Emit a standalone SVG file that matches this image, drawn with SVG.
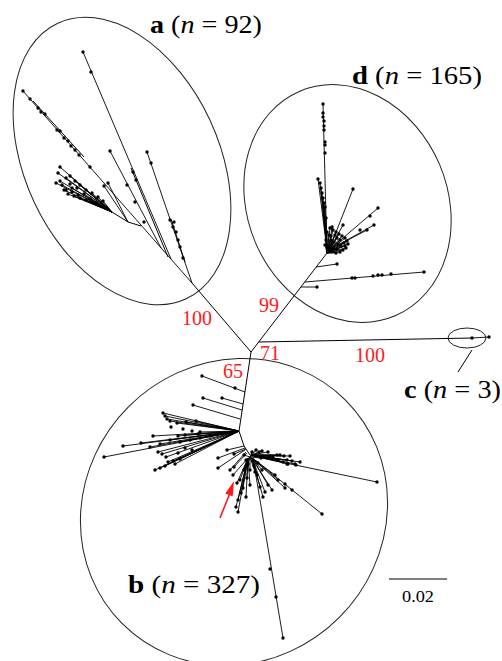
<svg xmlns="http://www.w3.org/2000/svg" width="502" height="661" viewBox="0 0 502 661">
<defs>
<marker id="dot" markerWidth="4" markerHeight="4" refX="2" refY="2" markerUnits="userSpaceOnUse"><circle cx="2" cy="2" r="1.7" fill="#000"/></marker>
<circle id="p" r="1.7" fill="#000"/>
</defs>
<rect width="502" height="661" fill="#fff"/>

<g id="clade-a">
<ellipse fill="none" stroke="#222" stroke-width="1" cx="122" cy="161" rx="152" ry="97" transform="rotate(65 122 161)"/>
<text font-family="Liberation Serif, serif" font-size="26" x="150" y="33" textLength="112" lengthAdjust="spacingAndGlyphs"><tspan font-weight="bold">a</tspan> (<tspan font-style="italic">n</tspan> = 92)</text>
</g>
<g id="clade-d">
<ellipse fill="none" stroke="#222" stroke-width="1" cx="347.5" cy="203.5" rx="122" ry="100" transform="rotate(67 347.5 203.5)"/>
<text font-family="Liberation Serif, serif" font-size="26" x="352" y="84" textLength="130" lengthAdjust="spacingAndGlyphs"><tspan font-weight="bold">d</tspan> (<tspan font-style="italic">n</tspan> = 165)</text>
</g>
<g id="clade-c">
<ellipse fill="none" stroke="#222" stroke-width="1" cx="467" cy="338" rx="19" ry="10"/>
<line stroke="#000" stroke-width="1" x1="472" y1="350" x2="458" y2="372"/>
<text font-family="Liberation Serif, serif" font-size="26" x="404" y="398" textLength="97" lengthAdjust="spacingAndGlyphs"><tspan font-weight="bold">c</tspan> (<tspan font-style="italic">n</tspan> = 3)</text>
</g>
<g id="clade-b">
<ellipse fill="none" stroke="#222" stroke-width="1" cx="234" cy="512" rx="158" ry="149" transform="rotate(-45 234 512)"/>
<text font-family="Liberation Serif, serif" font-size="26" x="128" y="593" textLength="132" lengthAdjust="spacingAndGlyphs"><tspan font-weight="bold">b</tspan> (<tspan font-style="italic">n</tspan> = 327)</text>
</g>

<g id="support" font-family="Liberation Serif, serif" font-size="20" fill="#ff1a1a">
<text x="182" y="325">100</text>
<text x="259" y="312">99</text>
<text x="260" y="360">71</text>
<text x="223" y="378">65</text>
<text x="355" y="362">100</text>
</g>

<g id="scale">
<line stroke="#000" stroke-width="1" x1="389" y1="579" x2="447" y2="579"/>
<text font-family="Liberation Serif, serif" font-size="17" x="402" y="602" textLength="32" lengthAdjust="spacingAndGlyphs">0.02</text>
</g>

<g id="connectors">
<g fill="none" stroke="#000" stroke-width="1">
<path d="M251 352L192 283M251 352L327 253M251 352L239 431L244 446L250 455"/>
<path d="M259 342L472 338"/>
<path d="M33 101L84 157"/>
<path d="M171 219L185 262"/>
<path d="M131 168L168 257"/>
<path d="M112 212L128 222L141 226"/>
</g>
<g fill="none" stroke="#000" stroke-width="0.9" marker-end="url(#dot)">
<path d="M472 338L489 337"/>
<path d="M192 283L23 91"/>
<path d="M192 283L147 152"/>
<path d="M171 259L83 52"/>
<path d="M161 248L110 151"/>
<path d="M128 222L108 183"/>
<path d="M128 222L104 186"/>
<path d="M112 212L60 167"/><path d="M112 212L58 173"/><path d="M112 212L56 183"/><path d="M112 212L62 185"/><path d="M112 212L66 178"/><path d="M112 212L70 176"/><path d="M112 212L75 181"/><path d="M112 212L80 185"/><path d="M112 212L86 190"/><path d="M112 212L92 193"/><path d="M112 212L98 197"/><path d="M112 212L103 201"/><path d="M112 212L64 190"/><path d="M112 212L68 194"/><path d="M112 212L74 196"/><path d="M112 212L80 198"/><path d="M112 212L86 200"/><path d="M112 212L92 202"/><path d="M112 212L98 205"/><path d="M112 212L60 181"/><path d="M112 212L72 188"/><path d="M112 212L84 194"/>
<path d="M316 267L337 264"/>
<path d="M305 282L424 272"/>
<path d="M301 287L317 287"/>
<path d="M327 253L323 104"/>
<path d="M327 250L318 179"/><path d="M327 250L320 183"/><path d="M327 250L321 188"/><path d="M327 250L322 193"/><path d="M327 250L323 198"/><path d="M327 250L324 203"/><path d="M327 250L325 207"/><path d="M327 250L326 218"/>
<path d="M329 250L353 189"/><path d="M329 250L378 208"/><path d="M329 250L374 225"/><path d="M329 250L367 230"/><path d="M329 250L343 225"/><path d="M329 250L332 227"/>
<path d="M327 253L330 228"/><path d="M327 253L333 230"/><path d="M327 253L336 232"/><path d="M327 253L339 234"/><path d="M327 253L342 236"/><path d="M327 253L345 238"/><path d="M327 253L347 241"/><path d="M327 253L348 244"/><path d="M327 253L346 248"/><path d="M327 253L343 250"/><path d="M327 253L340 252"/><path d="M327 253L336 253"/><path d="M327 253L329 235"/><path d="M327 253L331 240"/><path d="M327 253L334 242"/><path d="M327 253L338 244"/><path d="M327 253L341 246"/><path d="M327 253L333 248"/><path d="M327 253L329 246"/><path d="M327 253L326 240"/><path d="M327 253L325 245"/><path d="M327 253L327 232"/><path d="M327 253L337 238"/><path d="M327 253L344 243"/><path d="M327 253L331 236"/><path d="M327 253L335 235"/><path d="M327 253L340 240"/><path d="M327 253L345 246"/><path d="M327 253L332 244"/><path d="M327 253L337 249"/>
<path d="M245 392L202 376"/>
<path d="M243 404L222 398"/>
<path d="M242 410L203 398"/>
<path d="M240 419L193 405"/>
<path d="M239 431L163 413"/><path d="M239 431L165 416"/><path d="M239 431L167 419"/><path d="M239 431L170 421"/><path d="M239 431L177 423"/><path d="M239 431L186 422"/><path d="M239 431L196 421"/><path d="M239 431L153 436"/><path d="M239 431L178 436"/><path d="M239 431L185 435"/><path d="M239 431L200 432"/><path d="M239 431L123 446"/><path d="M239 431L141 443"/><path d="M239 431L104 457"/><path d="M239 431L158 452"/><path d="M239 431L162 454"/><path d="M239 431L166 457"/><path d="M239 431L168 462"/><path d="M239 431L173 461"/><path d="M239 431L180 459"/><path d="M239 431L155 470"/><path d="M239 431L160 468"/><path d="M239 431L165 466"/><path d="M239 431L175 464"/><path d="M239 431L150 447"/><path d="M239 431L160 444"/><path d="M239 431L170 440"/><path d="M239 431L180 442"/><path d="M239 431L190 440"/><path d="M239 431L200 438"/><path d="M239 431L210 436"/>
<path d="M244 446L227 450"/><path d="M245 448L218 458"/><path d="M245 450L218 468"/><path d="M246 452L230 470"/><path d="M247 453L234 467"/><path d="M246 449L234 454"/>
<path d="M252 456L377 482"/>
<path d="M255 460L322 514"/>
<path d="M253 458L283 638"/>
<path d="M251 455L270 456"/><path d="M251 455L273 457"/><path d="M251 455L277 455"/><path d="M251 455L280 455"/><path d="M251 455L284 456"/><path d="M251 455L290 456"/><path d="M251 455L287 460"/><path d="M251 455L278 460"/><path d="M251 455L283 462"/><path d="M251 455L288 464"/><path d="M251 455L295 464"/><path d="M251 455L292 461"/><path d="M251 455L300 462"/><path d="M251 455L262 451"/><path d="M251 455L268 452"/>
<path d="M252 458L257 475"/><path d="M252 458L260 487"/><path d="M252 458L263 497"/><path d="M252 458L265 492"/><path d="M252 458L275 475"/><path d="M252 458L278 480"/><path d="M252 458L285 488"/><path d="M252 458L268 485"/><path d="M252 458L272 490"/><path d="M252 458L262 470"/>
<path d="M248 458L238 512"/><path d="M248 458L236 507"/><path d="M248 458L238 500"/><path d="M248 458L241 493"/><path d="M248 458L237 483"/><path d="M248 458L233 475"/><path d="M248 458L240 480"/><path d="M248 458L243 488"/><path d="M248 458L246 497"/><path d="M248 458L244 470"/><path d="M248 458L247 478"/><path d="M248 458L250 485"/>
<path d="M250 457L252 452"/><path d="M250 457L256 450"/><path d="M250 457L259 452"/><path d="M250 457L246 460"/><path d="M250 457L248 464"/><path d="M250 457L254 466"/><path d="M250 457L258 463"/><path d="M250 457L261 458"/><path d="M250 457L244 455"/><path d="M250 457L250 470"/><path d="M250 457L255 472"/>
</g>
<g>
<use href="#p" x="472" y="338"/>
<use href="#p" x="30" y="99"/><use href="#p" x="38" y="108"/><use href="#p" x="41" y="112"/><use href="#p" x="45" y="114"/><use href="#p" x="57" y="130"/><use href="#p" x="60" y="131"/><use href="#p" x="64" y="138"/><use href="#p" x="68" y="141"/><use href="#p" x="71" y="146"/><use href="#p" x="75" y="150"/><use href="#p" x="79" y="155"/><use href="#p" x="90" y="167"/>
<use href="#p" x="151" y="163"/><use href="#p" x="170" y="220"/><use href="#p" x="174" y="222"/><use href="#p" x="173" y="227"/><use href="#p" x="176" y="232"/><use href="#p" x="178" y="240"/><use href="#p" x="180" y="247"/><use href="#p" x="183" y="258"/>
<use href="#p" x="91" y="72"/><use href="#p" x="133" y="172"/><use href="#p" x="136" y="180"/>
<use href="#p" x="127" y="185"/><use href="#p" x="135" y="202"/><use href="#p" x="144" y="222"/>
<use href="#p" x="66" y="190"/><use href="#p" x="72" y="192"/><use href="#p" x="78" y="195"/><use href="#p" x="90" y="199"/><use href="#p" x="96" y="203"/><use href="#p" x="70" y="184"/><use href="#p" x="77" y="188"/>
<use href="#p" x="352" y="278"/><use href="#p" x="355" y="278"/><use href="#p" x="373" y="276"/><use href="#p" x="378" y="275"/><use href="#p" x="382" y="275"/><use href="#p" x="391" y="274"/>
<use href="#p" x="323" y="113"/><use href="#p" x="323" y="117"/><use href="#p" x="324" y="121"/><use href="#p" x="324" y="126"/><use href="#p" x="324" y="130"/><use href="#p" x="325" y="142"/><use href="#p" x="325" y="145"/><use href="#p" x="325" y="153"/>
<use href="#p" x="370" y="216"/><use href="#p" x="360" y="230"/>
<use href="#p" x="235" y="388"/>
<use href="#p" x="171" y="427"/><use href="#p" x="183" y="429"/><use href="#p" x="192" y="431"/><use href="#p" x="198" y="434"/><use href="#p" x="185" y="448"/><use href="#p" x="192" y="450"/><use href="#p" x="178" y="453"/>
<use href="#p" x="287" y="464"/><use href="#p" x="296" y="465"/>
<use href="#p" x="285" y="484"/><use href="#p" x="292" y="490"/>
<use href="#p" x="270" y="569"/><use href="#p" x="276" y="597"/>
</g>
</g>

<g id="arrow">
<line x1="220" y1="518" x2="230" y2="493" stroke="#ff1a1a" stroke-width="1.6"/>
<polygon points="234,481 232.7,496.4 225.3,493.6" fill="#ff1a1a"/>
</g>
</svg>
